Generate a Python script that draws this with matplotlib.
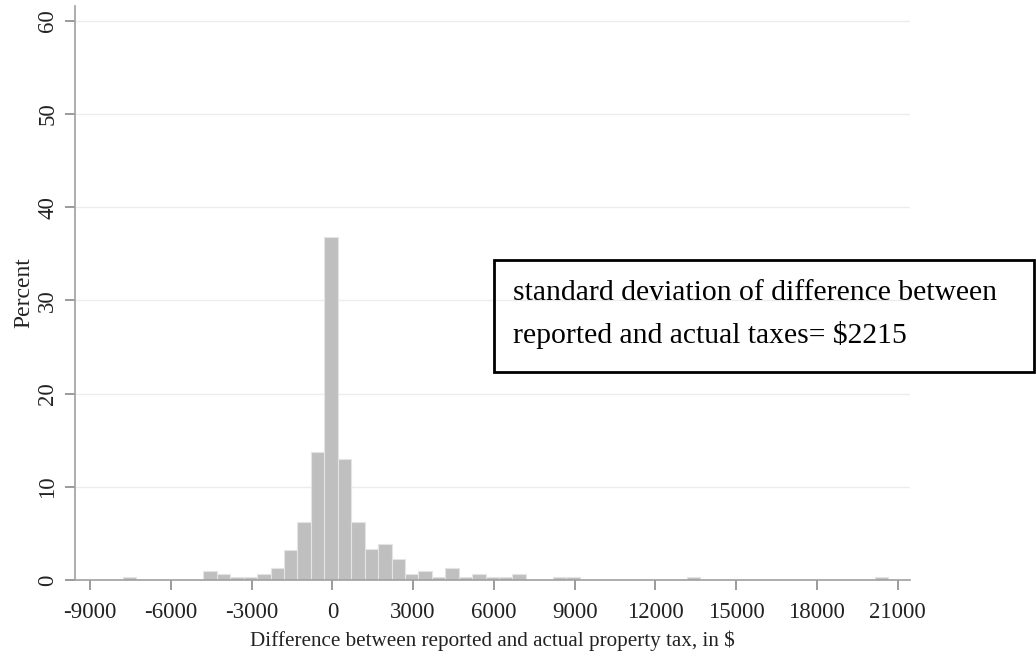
import numpy as np
import matplotlib
matplotlib.use('Agg')
from matplotlib import pyplot as plt
from matplotlib.patches import Rectangle

# histogram bins (width ~499, first edge ~ -7782), percent per bin
bin_start = -7782
bin_width = 499
bin_index = [0, 6, 7, 8, 9, 10, 11, 12, 13, 14, 15, 16, 17, 18, 19, 20,
             21, 22, 23, 24, 25, 26, 27, 28, 29, 32, 33, 42, 56]
percent = [0.32, 0.97, 0.65, 0.32, 0.32, 0.65, 1.29, 3.23, 6.2, 13.7, 36.8,
           13.0, 6.2, 3.3, 3.9, 2.26, 0.65, 0.97, 0.32, 1.29, 0.32, 0.65,
           0.32, 0.32, 0.65, 0.32, 0.32, 0.32, 0.32]

x_ticks = list(range(-9000, 21001, 3000))
y_ticks = [0, 10, 20, 30, 40, 50, 60]
note_lines = ["standard deviation of difference between",
              "reported and actual taxes= $2215"]

plt.rcParams['font.family'] = ['Liberation Serif', 'DejaVu Serif']

W, H = 1036, 663
fig = plt.figure(figsize=(W / 100, H / 100), dpi=100)
ax = fig.add_axes([75 / W, 1 - 580 / H, (910 - 75) / W, (580 - 6) / H])

lefts = [bin_start + i * bin_width for i in bin_index]
ax.bar(lefts, percent, width=bin_width, align='edge', color='#bfbfbf',
       edgecolor='#e4e4e4', linewidth=0.8, zorder=2)

ax.set_xlim(-9560, 21460)
ax.set_ylim(0, 61.6)
ax.set_xticks(x_ticks)
ax.set_xticklabels([str(v) for v in x_ticks])
ax.set_yticks(y_ticks)
ax.set_yticklabels([str(v) for v in y_ticks], rotation=90, va='center')

ax.grid(axis='y', color='#ececec', linewidth=1.0, zorder=0)
for s in ['top', 'right']:
    ax.spines[s].set_visible(False)
for s in ['left', 'bottom']:
    ax.spines[s].set_color('#a0a0a0')
    ax.spines[s].set_linewidth(1.2)

ax.tick_params(axis='both', colors='#8a8a8a', labelcolor='#222222',
               labelsize=16.5, width=1.2, length=7)
ax.tick_params(axis='x', pad=8.5)
ax.tick_params(axis='y', pad=5)

ax.set_xlabel("Difference between reported and actual property tax, in $",
              fontsize=15.2, color='#222222', labelpad=6)
ax.set_ylabel("Percent", fontsize=17, color='#222222', labelpad=2.5)

# annotation box running off the right edge
fig.patches.append(Rectangle((494 / W, 1 - 372 / H), (1034 - 494) / W,
                             (372 - 260) / H, transform=fig.transFigure,
                             fill=False, edgecolor='black', linewidth=2.0))
fig.text(513 / W, 1 - 300 / H, note_lines[0], fontsize=21.3, va='baseline')
fig.text(513 / W, 1 - 343 / H, note_lines[1], fontsize=21.3, va='baseline')

fig.savefig('out.png', dpi=100)
